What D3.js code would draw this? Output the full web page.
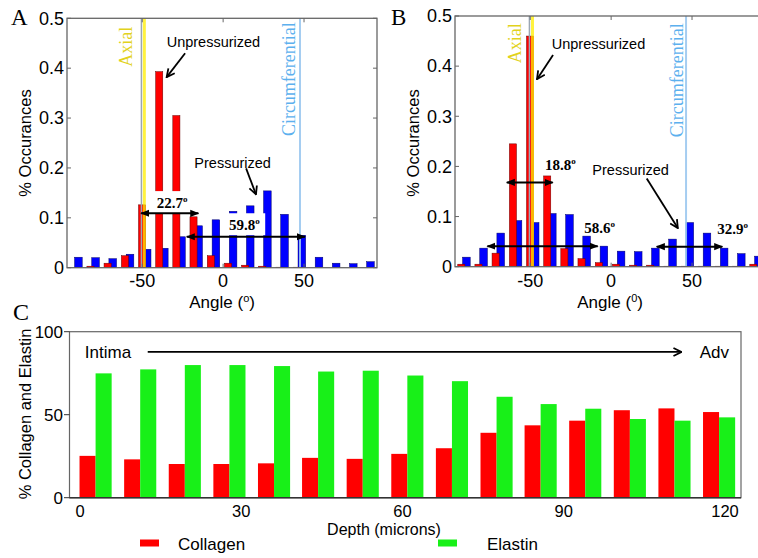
<!DOCTYPE html>
<html>
<head>
<meta charset="utf-8">
<script src="https://cdn.jsdelivr.net/npm/d3@7"></script>
<style>
  body { margin: 0; background: #fff; }
  text { font-family: "Liberation Sans", Arial, sans-serif; }
</style>
</head>
<body>
<div id="plot"></div>
<script>
// angle histogram: group centres (degrees), same binning for A and B
const angleBins = [-91.8, -81.2, -70.6, -59.9, -49.3, -38.7, -28.1, -17.5, -6.8, 3.8, 14.4, 25.0, 35.6, 46.3, 56.9, 67.5, 78.1, 88.7];
// panel A
const unpressA = [0, 0.003, 0.009, 0.024, 0.126, 0.393, 0.305, 0.102, 0.024, 0.009, 0.005, 0.003, 0.001, 0.001, 0, 0, 0, 0];
const pressA   = [0.021, 0.020, 0.018, 0.027, 0.037, 0.039, 0.062, 0.084, 0.096, 0.113, 0.124, 0.154, 0.107, 0.065, 0.021, 0.009, 0.008, 0.012];
// panel B
const unpressB = [0.005, 0.005, 0.027, 0.245, 0.460, 0.181, 0.036, 0.016, 0.008, 0.005, 0.003, 0.003, 0.001, 0.001, 0.001, 0.001, 0.001, 0.005];
const pressB   = [0.019, 0.037, 0.067, 0.092, 0.088, 0.106, 0.104, 0.061, 0.041, 0.031, 0.030, 0.037, 0.055, 0.088, 0.067, 0.037, 0.026, 0.021];
const angleTicks = [-50, 0, 50];
const fracTicks = [0, 0.1, 0.2, 0.3, 0.4, 0.5];

// panel C: depth profile
const depths   = [2.9, 11.2, 19.5, 27.8, 36.1, 44.3, 52.6, 60.9, 69.2, 77.5, 85.7, 94.0, 102.3, 110.6, 118.9];
const collagen = [25.2, 23.1, 20.3, 20.3, 20.7, 24.0, 23.4, 26.4, 29.8, 39.1, 43.6, 46.4, 52.7, 53.8, 51.6];
const elastin  = [74.9, 77.3, 79.9, 79.9, 79.3, 76.0, 76.5, 73.6, 70.2, 60.8, 56.4, 53.6, 47.4, 46.4, 48.4];
const depthTicks = [0, 30, 60, 90, 120];
const pctTicks = [0, 50, 100];

const W = 758, H = 558;
const svg = d3.select("#plot").append("svg")
  .attr("width", W).attr("height", H)
  .style("display", "block");

const defs = svg.append("defs");
defs.append("marker").attr("id", "openHead")
  .attr("viewBox", "0 0 10 10").attr("refX", 9).attr("refY", 5)
  .attr("markerWidth", 10).attr("markerHeight", 10)
  .attr("markerUnits", "userSpaceOnUse").attr("orient", "auto")
  .append("path").attr("d", "M1,1 L9,5 L1,9")
  .attr("fill", "none").attr("stroke", "#000").attr("stroke-width", 1.8);
defs.append("marker").attr("id", "solidHead")
  .attr("viewBox", "0 0 10 10").attr("refX", 9).attr("refY", 5)
  .attr("markerWidth", 9).attr("markerHeight", 9)
  .attr("markerUnits", "userSpaceOnUse").attr("orient", "auto-start-reverse")
  .append("path").attr("d", "M0,1 L10,5 L0,9 Z").attr("fill", "#000");

function degText(g, x, y, value, withBox) {
  const t = g.append("text")
    .attr("x", x).attr("y", y).attr("dy", "0.35em")
    .style("font-family", "'Liberation Serif', 'Times New Roman', serif")
    .style("font-weight", "bold").style("font-size", "15px");
  t.append("tspan").text(value);
  t.append("tspan").attr("dy", -6).style("font-size", "9px").text("o");
  if (withBox) {
    const bb = t.node().getBBox();
    g.insert("rect", function() { return t.node(); })
      .attr("x", bb.x - 5).attr("y", bb.y - 3)
      .attr("width", bb.width + 10).attr("height", bb.height + 5)
      .attr("fill", "#fff");
  }
}

function histPanel(cfg) {
  const g = svg.append("g");
  const left = cfg.left, width = 310, top = cfg.top, bottom = cfg.bottom;
  const x = d3.scaleLinear().domain([-96.5, 95.1]).range([left, left + width]);
  const y = d3.scaleLinear().domain([0, 0.5]).range([bottom, top]);

  // blue (pressurized) bars
  g.append("g").selectAll("rect").data(cfg.blue).join("rect")
    .attr("x", (d, i) => x(angleBins[i]))
    .attr("width", x(4.7) - x(0))
    .attr("y", d => y(d))
    .attr("height", d => y(0) - y(d))
    .attr("fill", "#0000ff").attr("stroke", "#000066").attr("stroke-width", 0.5);
  // red (unpressurized) bars
  g.append("g").selectAll("rect").data(cfg.red).join("rect")
    .attr("x", (d, i) => x(angleBins[i] - 3))
    .attr("width", x(4.4) - x(0))
    .attr("y", d => y(d))
    .attr("height", d => y(0) - y(d))
    .attr("fill", "#ff0000").attr("stroke", "#660000").attr("stroke-width", 0.5);

  // reference directions
  g.append("line").attr("x1", x(-50.5)).attr("x2", x(-50.5)).attr("y1", top).attr("y2", bottom)
    .attr("stroke", "#9aa6b4").attr("stroke-width", 1.5);
  g.append("line").attr("x1", x(cfg.axial)).attr("x2", x(cfg.axial)).attr("y1", top).attr("y2", bottom)
    .attr("stroke", "#ffee00").attr("stroke-width", 3).attr("opacity", 0.75);
  g.append("line").attr("x1", x(cfg.circ)).attr("x2", x(cfg.circ)).attr("y1", top).attr("y2", bottom)
    .attr("stroke", "#9cc8f0").attr("stroke-width", 2).attr("opacity", 0.9);

  g.append("text")
    .attr("transform", `translate(${x(cfg.axialLabel[0])},${y(cfg.axialLabel[1])}) rotate(-90)`)
    .attr("text-anchor", "middle").attr("dy", "0.35em")
    .style("font-family", "'Liberation Serif', 'Times New Roman', serif")
    .style("font-size", "18px").attr("fill", "#e2d21c").text("Axial");
  g.append("text")
    .attr("transform", `translate(${x(cfg.circLabel[0])},${y(cfg.circLabel[1])}) rotate(-90)`)
    .attr("text-anchor", "middle").attr("dy", "0.35em")
    .style("font-family", "'Liberation Serif', 'Times New Roman', serif")
    .style("font-size", "18px").attr("fill", "#5cb0ee").text("Circumferential");

  // frame
  g.append("rect").attr("x", left).attr("y", top).attr("width", width).attr("height", bottom - top)
    .attr("fill", "none").attr("stroke", "#666").attr("stroke-width", 1.3);

  // ticks (inward) and labels
  angleTicks.forEach(t => {
    g.append("line").attr("x1", x(t)).attr("x2", x(t)).attr("y1", bottom).attr("y2", bottom - 4).attr("stroke", "#666");
    g.append("line").attr("x1", x(t)).attr("x2", x(t)).attr("y1", top).attr("y2", top + 4).attr("stroke", "#666");
  });
  fracTicks.forEach(t => {
    g.append("line").attr("x1", left).attr("x2", left + 4).attr("y1", y(t)).attr("y2", y(t)).attr("stroke", "#666");
    g.append("line").attr("x1", left + width).attr("x2", left + width - 4).attr("y1", y(t)).attr("y2", y(t)).attr("stroke", "#666");
  });
  g.append("g").selectAll("text").data(angleTicks).join("text")
    .attr("x", d => x(d)).attr("y", 281).attr("dy", "0.35em")
    .attr("text-anchor", "middle").style("font-size", "18px")
    .text(d => d);
  g.append("g").selectAll("text").data(fracTicks).join("text")
    .attr("x", left - 3).attr("y", d => y(d)).attr("dy", "0.35em")
    .attr("text-anchor", "end").style("font-size", "18px")
    .text(d => d === 0 ? "0" : d.toFixed(1));

  // axis titles
  g.append("text").attr("transform", `translate(${left - 42},143) rotate(-90)`)
    .attr("text-anchor", "middle").attr("dy", "0.35em").style("font-size", "16.5px")
    .text("% Occurances");
  const at = g.append("text").attr("x", x(0) - 1).attr("y", 302).attr("dy", "0.35em")
    .attr("text-anchor", "middle").style("font-size", "17px");
  at.append("tspan").text("Angle (");
  at.append("tspan").attr("dy", -6).style("font-size", "11px").text(cfg.degSym);
  at.append("tspan").attr("dy", 6).text(")");

  // panel letter
  g.append("text").attr("x", cfg.letterX).attr("y", 25)
    .style("font-family", "'Liberation Serif', 'Times New Roman', serif")
    .style("font-size", "23px").text(cfg.letter);

  // arrows with labels
  cfg.notes.forEach(n => {
    g.append("text").attr("x", x(n.text[0])).attr("y", y(n.text[1])).attr("dy", "0.35em")
      .style("font-size", "14.5px").text(n.label);
    g.append("line").attr("x1", x(n.from[0])).attr("y1", y(n.from[1]))
      .attr("x2", x(n.to[0])).attr("y2", y(n.to[1]))
      .attr("stroke", "#000").attr("stroke-width", 1.8).attr("marker-end", "url(#openHead)");
  });
  cfg.spans.forEach(s => {
    degText(g, x(s.text[0]), y(s.text[1]), s.label, cfg.boxes);
    g.append("line").attr("x1", x(s.x0)).attr("x2", x(s.x1))
      .attr("y1", y(s.y)).attr("y2", y(s.y))
      .attr("stroke", "#000").attr("stroke-width", 2)
      .attr("marker-start", "url(#solidHead)").attr("marker-end", "url(#solidHead)");
  });
}

histPanel({
  left: 67, top: 18.3, bottom: 267.7, letter: "A", letterX: 11, degSym: "o",
  red: unpressA, blue: pressA, axial: -48.7, circ: 47.5,
  axialLabel: [-60, 0.443], circLabel: [40.3, 0.378], boxes: true,
  notes: [
    { label: "Unpressurized", text: [-34.9, 0.453], from: [-23.5, 0.430], to: [-34.9, 0.382] },
    { label: "Pressurized", text: [-17.8, 0.211], from: [14.2, 0.199], to: [20.3, 0.147] }
  ],
  spans: [
    { label: "22.7", text: [-41, 0.130], x0: -50.7, x1: -15.3, y: 0.109 },
    { label: "59.8", text: [3.6, 0.0856], x0: -22.5, x1: 50.6, y: 0.062 }
  ]
});

histPanel({
  left: 455, top: 16, bottom: 266.7, letter: "B", letterX: 391, degSym: "0",
  red: unpressB, blue: pressB, axial: -48.6, circ: 46.3,
  axialLabel: [-59.4, 0.4456], circLabel: [40.5, 0.372], boxes: false,
  notes: [
    { label: "Unpressurized", text: [-36.7, 0.4436], from: [-35.9, 0.422], to: [-45.8, 0.374] },
    { label: "Pressurized", text: [-11.6, 0.194], from: [22.0, 0.176], to: [41.2, 0.077] }
  ],
  spans: [
    { label: "18.8", text: [-40.9, 0.203], x0: -64.5, x1: -36.1, y: 0.168 },
    { label: "58.6", text: [-16.6, 0.0786], x0: -76.5, x1: -8.3, y: 0.041 },
    { label: "32.9", text: [65.6, 0.075], x0: 28.2, x1: 68.7, y: 0.040 }
  ]
});

// ---------- panel C ----------
const gc = svg.append("g");
const cx = d3.scaleLinear().domain([0, 120]).range([80, 725]);
const cy = d3.scaleLinear().domain([0, 100]).range([497.7, 331.7]);
const bw = (cx(depths[1]) - cx(depths[0])) * 0.36;

gc.append("g").selectAll("rect").data(collagen).join("rect")
  .attr("x", (d, i) => cx(depths[i]) - bw).attr("width", bw)
  .attr("y", d => cy(d)).attr("height", d => cy(0) - cy(d))
  .attr("fill", "#ff0000");
gc.append("g").selectAll("rect").data(elastin).join("rect")
  .attr("x", (d, i) => cx(depths[i])).attr("width", bw)
  .attr("y", d => cy(d)).attr("height", d => cy(0) - cy(d))
  .attr("fill", "#18f018");

gc.append("rect").attr("x", 69.5).attr("y", cy(100)).attr("width", 741 - 69.5).attr("height", cy(0) - cy(100))
  .attr("fill", "none").attr("stroke", "#666").attr("stroke-width", 1.2);
gc.append("line").attr("x1", 69.5).attr("x2", 741).attr("y1", cy(0)).attr("y2", cy(0))
  .attr("stroke", "#333").attr("stroke-width", 1.5);

pctTicks.forEach(t => {
  gc.append("line").attr("x1", 64).attr("x2", 69.5).attr("y1", cy(t)).attr("y2", cy(t)).attr("stroke", "#333");
});
gc.append("g").selectAll("text").data(pctTicks).join("text")
  .attr("x", 63).attr("y", d => cy(d)).attr("dy", "0.35em")
  .attr("text-anchor", "end").style("font-size", "17px").text(d => d);
gc.append("g").selectAll("text").data(depthTicks).join("text")
  .attr("x", d => cx(d)).attr("y", 511).attr("dy", "0.35em")
  .attr("text-anchor", "middle").style("font-size", "16.5px").text(d => d);

gc.append("text").attr("x", 384).attr("y", 529).attr("dy", "0.35em")
  .attr("text-anchor", "middle").style("font-size", "16px").text("Depth (microns)");
gc.append("text").attr("transform", "translate(25,414) rotate(-90)")
  .attr("text-anchor", "middle").attr("dy", "0.35em").style("font-size", "16.5px")
  .text("% Collagen and Elastin");

// intima -> adventitia
gc.append("text").attr("x", cx(0.9)).attr("y", cy(87.8)).attr("dy", "0.35em")
  .style("font-size", "17px").text("Intima");
gc.append("line").attr("x1", cx(12.6)).attr("x2", cx(111.9)).attr("y1", cy(87.8)).attr("y2", cy(87.8))
  .attr("stroke", "#000").attr("stroke-width", 1.8).attr("marker-end", "url(#openHead)");
gc.append("text").attr("x", cx(115.3)).attr("y", cy(87.8)).attr("dy", "0.35em")
  .style("font-size", "17px").text("Adv");

gc.append("text").attr("x", 13).attr("y", 320)
  .style("font-family", "'Liberation Serif', 'Times New Roman', serif")
  .style("font-size", "24px").text("C");

// legend
const legend = [{ name: "Collagen", color: "#ff0000", x: 140 }, { name: "Elastin", color: "#18f018", x: 438 }];
legend.forEach(l => {
  gc.append("rect").attr("x", l.x).attr("y", 539.5).attr("width", 19).attr("height", 7).attr("fill", l.color);
  gc.append("text").attr("x", l.x + (l.name === "Collagen" ? 38 : 49)).attr("y", 544).attr("dy", "0.35em")
    .style("font-size", "17px").text(l.name);
});
</script>
</body>
</html>
